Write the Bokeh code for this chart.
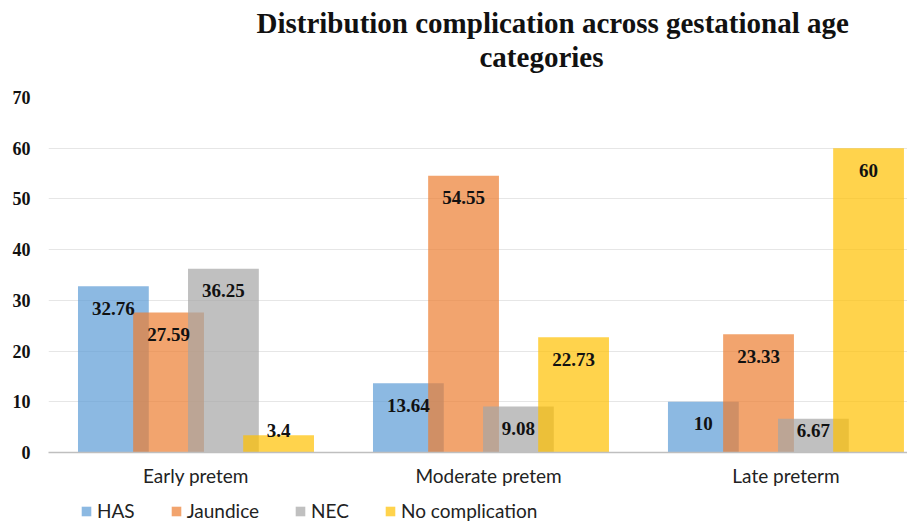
from bokeh.plotting import figure
from bokeh.layouts import column
from bokeh.models import (ColumnDataSource, Range1d, FixedTicker, LabelSet, Title,
                          Legend, LegendItem)
from bokeh.core.properties import value
from bokeh.embed import file_html
from bokeh.resources import INLINE

categories = ["Early pretem", "Moderate  pretem", "Late preterm"]
series = ["HAS", "Jaundice", "NEC", "No complication"]
has = [32.76, 13.64, 10]
jaundice = [27.59, 54.55, 23.33]
nec = [36.25, 9.08, 6.67]
no_comp = [3.4, 22.73, 60]
colors = ["#5B9BD5", "#ED7D31", "#A5A5A5", "#FFC000"]
y_ticks = [0, 10, 20, 30, 40, 50, 60, 70]
title_lines = ["Distribution complication  across gestational age", "categories"]

values = [has, jaundice, nec, no_comp]
offsets = [-0.28, -0.093, 0.093, 0.28]
bar_w = 0.24

p = figure(width=907, height=497, output_backend="svg", toolbar_location=None,
           x_range=Range1d(-0.5, 2.412), y_range=Range1d(0, 70),
           min_border_left=48, min_border_right=0, min_border_top=97,
           min_border_bottom=45)
p.outline_line_color = None
p.background_fill_color = "white"
p.border_fill_color = "white"

# legend strip (separate small figure below the chart)
lg = figure(width=907, height=24, output_backend="svg", toolbar_location=None,
            x_range=Range1d(-0.5, 2.412), y_range=Range1d(100, 101),
            x_axis_type=None, y_axis_type=None,
            min_border_left=0, min_border_right=0, min_border_top=0,
            min_border_bottom=0)
lg.outline_line_color = None
lg.xgrid.visible = False
lg.ygrid.visible = False

items = []
for i, (name, vals, col, off) in enumerate(zip(series, values, colors, offsets)):
    xs = [j + off for j in range(len(categories))]
    lab_y = [max(v, 8.7) for v in vals]
    src = ColumnDataSource(dict(x=xs, top=vals, ly=lab_y,
                                txt=[f"{v:g}" for v in vals]))
    p.vbar(x="x", top="top", width=bar_w, bottom=0, source=src,
           fill_color=col, fill_alpha=0.7, line_color=None)
    ls = LabelSet(x="x", y="ly", text="txt", source=src, y_offset=-22,
                  text_align="center", text_baseline="middle",
                  text_font="Liberation Serif", text_font_style="bold",
                  text_font_size="19px", text_color="#111111")
    p.add_layout(ls)
    # same series in the legend strip (outside its visible range, only for the key)
    r = lg.vbar(x="x", top="top", width=bar_w, bottom=0, source=src,
                fill_color=col, fill_alpha=0.7, line_color=None)
    items.append(LegendItem(label=value(name), renderers=[r]))

# axes
p.xaxis.ticker = FixedTicker(ticks=list(range(len(categories))))
p.xaxis.major_label_overrides = {j: c for j, c in enumerate(categories)}
p.xaxis.major_tick_line_color = None
p.xaxis.major_tick_out = 0
p.xaxis.major_tick_in = 0
p.xaxis.minor_tick_line_color = None
p.xaxis.axis_line_color = "#BFBFBF"
p.xaxis.axis_line_width = 1.5
p.xaxis.major_label_text_font = "Lato"
p.xaxis.major_label_text_font_size = "19px"
p.xaxis.major_label_text_color = "#222222"
p.xaxis.major_label_standoff = 11

p.yaxis.ticker = FixedTicker(ticks=y_ticks)
p.yaxis.axis_line_color = None
p.yaxis.major_tick_line_color = None
p.yaxis.major_tick_out = 0
p.yaxis.major_tick_in = 0
p.yaxis.minor_tick_line_color = None
p.yaxis.major_label_text_font = "Liberation Serif"
p.yaxis.major_label_text_font_style = "bold"
p.yaxis.major_label_text_font_size = "18px"
p.yaxis.major_label_text_color = "#111111"
p.yaxis.major_label_standoff = 18

p.xgrid.grid_line_color = None
p.ygrid.ticker = FixedTicker(ticks=y_ticks)
p.ygrid.grid_line_color = "#E6E6E6"
p.ygrid.grid_line_width = 1

# title: spacer closest to the frame, then line 2, then line 1
p.add_layout(Title(text=" ", text_font_size="10px", standoff=12), "above")
p.add_layout(Title(text=title_lines[1], align="left", offset=431, standoff=0,
                   text_font="Liberation Serif", text_font_style="bold",
                   text_font_size="29px", text_color="#111111"), "above")
p.add_layout(Title(text=title_lines[0], align="left", offset=208, standoff=0,
                   text_font="Liberation Serif", text_font_style="bold",
                   text_font_size="29px", text_color="#111111"), "above")

legend = Legend(items=items, orientation="horizontal", location=(32, -1),
                label_text_font="Lato", label_text_font_size="19px",
                label_text_color="#222222", glyph_width=12, glyph_height=12,
                label_standoff=5, spacing=35, padding=0, margin=0,
                border_line_color=None, background_fill_alpha=0)
lg.add_layout(legend, "center")

page = column(p, lg, spacing=0)
open("out.html", "w").write(file_html(page, INLINE))
